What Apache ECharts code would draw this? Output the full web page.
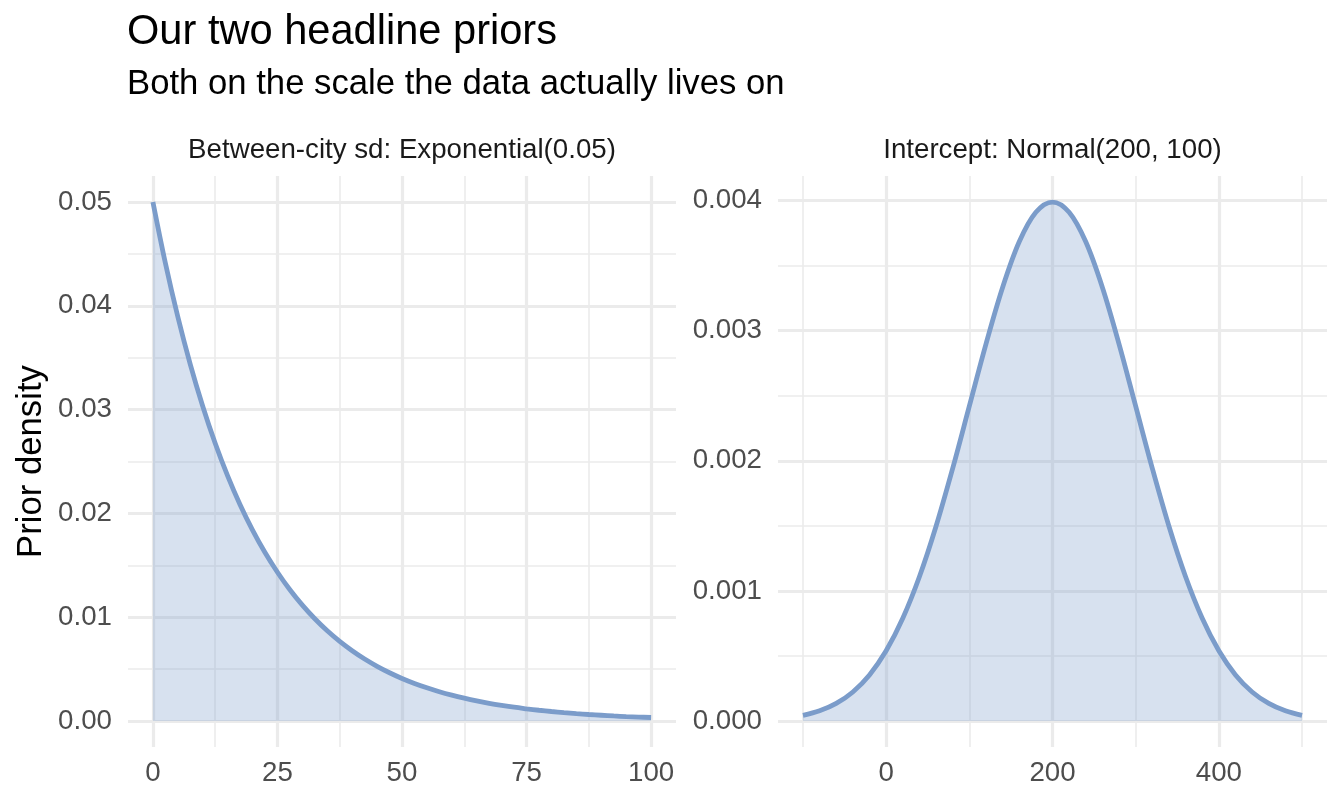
<!DOCTYPE html>
<html>
<head>
<meta charset="utf-8">
<title>Our two headline priors</title>
<script src="https://cdn.jsdelivr.net/npm/echarts@6/dist/echarts.min.js"></script>
<style>
  html, body { margin: 0; padding: 0; background: #fff; }
  #chart { width: 1344px; height: 806px; }
</style>
</head>
<body>
<div id="chart"></div>
<script>
  // 左图：Exponential(0.05) 密度
  const expX = [0, 2.5, 5, 7.5, 10, 12.5, 15, 17.5, 20, 22.5, 25, 27.5, 30, 32.5, 35, 37.5, 40,
    42.5, 45, 47.5, 50, 52.5, 55, 57.5, 60, 62.5, 65, 67.5, 70, 72.5, 75, 77.5, 80, 82.5, 85,
    87.5, 90, 92.5, 95, 97.5, 100];
  const expDensity = [0.05000, 0.04412, 0.03894, 0.03436, 0.03033, 0.02676, 0.02362, 0.02084,
    0.01839, 0.01623, 0.01433, 0.01264, 0.01116, 0.00985, 0.00869, 0.00767, 0.00677, 0.00597,
    0.00527, 0.00465, 0.00410, 0.00362, 0.00320, 0.00282, 0.00249, 0.00220, 0.00194, 0.00171,
    0.00151, 0.00133, 0.00118, 0.00104, 0.00092, 0.00081, 0.00071, 0.00063, 0.00056, 0.00049,
    0.00043, 0.00038, 0.00034];

  // 右图：Normal(200, 100) 密度
  const normX = [-100, -80, -60, -40, -20, 0, 20, 40, 60, 80, 100, 120, 140, 160, 180, 200,
    220, 240, 260, 280, 300, 320, 340, 360, 380, 400, 420, 440, 460, 480, 500];
  const normDensity = [0.000044, 0.000079, 0.000136, 0.000224, 0.000355, 0.000540, 0.000790,
    0.001109, 0.001497, 0.001942, 0.002420, 0.002897, 0.003332, 0.003683, 0.003910, 0.003989,
    0.003910, 0.003683, 0.003332, 0.002897, 0.002420, 0.001942, 0.001497, 0.001109, 0.000790,
    0.000540, 0.000355, 0.000224, 0.000136, 0.000079, 0.000044];

  // 刻度
  const expXMajor = [0, 25, 50, 75, 100];
  const expXMinor = [12.5, 37.5, 62.5, 87.5];
  const expYMajor = [0, 0.01, 0.02, 0.03, 0.04, 0.05];
  const expYMinor = [0.005, 0.015, 0.025, 0.035, 0.045];
  const normXMajor = [0, 200, 400];
  const normXMinor = [-100, 100, 300, 500];
  const normYMajor = [0, 0.001, 0.002, 0.003, 0.004];
  const normYMinor = [0.0005, 0.0015, 0.0025, 0.0035];

  const stripLabels = ["Between-city sd: Exponential(0.05)", "Intercept: Normal(200, 100)"];

  const FONT = '"Liberation Sans", Arial, Helvetica, sans-serif';
  const GRID_COLOR = "#EBEBEB";
  const LINE_COLOR = "#7B9CCA";

  function majorAxis(dim, gridIndex, min, max, ticks, fmt) {
    return {
      type: "value",
      gridIndex,
      min,
      max,
      axisLine: { show: false },
      axisTick: { show: false, customValues: ticks },
      axisLabel: {
        customValues: ticks,
        color: "#4D4D4D",
        fontFamily: FONT,
        fontSize: 27.7,
        margin: dim === "x" ? 12 : 16,
        formatter: fmt,
      },
      splitLine: { show: true, lineStyle: { color: GRID_COLOR, width: 3.2 } },
    };
  }

  function minorAxis(gridIndex, min, max, ticks) {
    return {
      type: "value",
      gridIndex,
      min,
      max,
      axisLine: { show: false },
      axisTick: { show: false, customValues: ticks },
      axisLabel: { show: false, customValues: ticks },
      splitLine: { show: true, lineStyle: { color: GRID_COLOR, width: 1.6 } },
    };
  }

  function pairs(xs, ys) {
    return xs.map((x, i) => [x, ys[i]]);
  }

  function densitySeries(xi, yi, data) {
    return {
      type: "line",
      xAxisIndex: xi,
      yAxisIndex: yi,
      data,
      smooth: 0.35,
      showSymbol: false,
      silent: true,
      lineStyle: { color: LINE_COLOR, width: 4.8 },
      areaStyle: { color: LINE_COLOR, opacity: 0.3 },
      z: 3,
    };
  }

  const chart = echarts.init(document.getElementById("chart"), null, { renderer: "canvas" });
  chart.setOption({
    backgroundColor: "#fff",
    animation: false,
    grid: [
      { left: 128, top: 176, width: 548, height: 571, outerBoundsMode: "none" },
      { left: 778, top: 176, width: 549, height: 571, outerBoundsMode: "none" },
    ],
    xAxis: [
      majorAxis("x", 0, -5, 105, expXMajor, (v) => String(v)),
      minorAxis(0, -5, 105, expXMinor),
      majorAxis("x", 1, -130, 530, normXMajor, (v) => String(v)),
      minorAxis(1, -130, 530, normXMinor),
    ],
    yAxis: [
      majorAxis("y", 0, -0.0025, 0.0525, expYMajor, (v) => v.toFixed(2)),
      minorAxis(0, -0.0025, 0.0525, expYMinor),
      majorAxis("y", 1, -0.000199, 0.004189, normYMajor, (v) => v.toFixed(3)),
      minorAxis(1, -0.000199, 0.004189, normYMinor),
    ],
    series: [
      densitySeries(0, 0, pairs(expX, expDensity)),
      densitySeries(2, 2, pairs(normX, normDensity)),
    ],
    graphic: [
      {
        type: "text", x: 127, y: 33,
        style: { text: "Our two headline priors", fontFamily: FONT, fontSize: 41.6,
          fill: "#000", align: "left", verticalAlign: "middle" },
      },
      {
        type: "text", x: 127, y: 84,
        style: { text: "Both on the scale the data actually lives on", fontFamily: FONT,
          fontSize: 34.7, fill: "#000", align: "left", verticalAlign: "middle" },
      },
      {
        type: "text", x: 402, y: 150,
        style: { text: stripLabels[0], fontFamily: FONT, fontSize: 27.7,
          fill: "#1A1A1A", align: "center", verticalAlign: "middle" },
      },
      {
        type: "text", x: 1052.5, y: 150,
        style: { text: stripLabels[1], fontFamily: FONT, fontSize: 27.7,
          fill: "#1A1A1A", align: "center", verticalAlign: "middle" },
      },
      {
        type: "text", x: 31, y: 461.5, rotation: Math.PI / 2,
        style: { text: "Prior density", fontFamily: FONT, fontSize: 34.7,
          fill: "#000", align: "center", verticalAlign: "middle" },
      },
    ],
  });
</script>
</body>
</html>
